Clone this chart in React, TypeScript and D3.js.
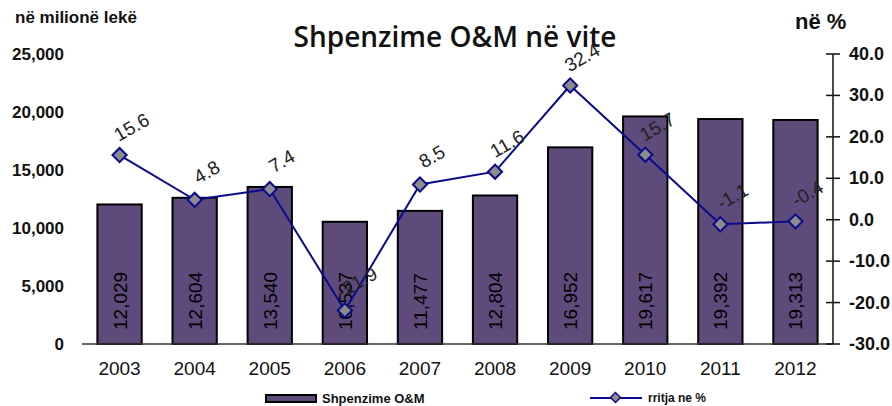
import React from "react";
import * as d3 from "d3";

// data
const years = ["2003", "2004", "2005", "2006", "2007", "2008", "2009", "2010", "2011", "2012"];
const spending = [12029, 12604, 13540, 10537, 11477, 12804, 16952, 19617, 19392, 19313];
const growth = [15.6, 4.8, 7.4, -21.9, 8.5, 11.6, 32.4, 15.7, -1.1, -0.4];
const leftTicks = [0, 5000, 10000, 15000, 20000, 25000];
const rightTicks = [-30, -20, -10, 0, 10, 20, 30, 40];

const W = 892;
const H = 406;
const left = 82;
const right = 833;
const top = 54;
const bottom = 344;

const barFill = "#5f4b7b";
const lineColor = "#0a0a8c";
const font = "'Liberation Sans', Arial, sans-serif";
const narrow = "'Liberation Sans Narrow', 'Arial Narrow', sans-serif";

export default function App() {
  const x = d3.scaleBand<string>().domain(years).range([left, right]).paddingInner(0.41).paddingOuter(0.205);
  const yL = d3.scaleLinear().domain([0, 25000]).range([bottom, top]);
  const yR = d3.scaleLinear().domain([-30, 40]).range([bottom, top]);
  const fmt = d3.format(",");

  const pts = years.map((yr, i) => [x(yr)! + x.bandwidth() / 2, yR(growth[i])] as [number, number]);
  const line = d3.line()(pts) ?? "";

  return (
    <svg width={W} height={H} style={{ position: "absolute", left: 0, top: 0, background: "#fff" }} fontFamily={font}>
      {/* titles */}
      <text x={455} y={47} textAnchor="middle" fontFamily="'Open Sans', sans-serif" fontWeight={600} fontSize={28} fill="#111">
        Shpenzime O&amp;M në vite
      </text>
      <text x={15} y={23} fontWeight="bold" fontSize={17} fill="#111">në milionë lekë</text>
      <text x={795} y={29} fontWeight="bold" fontSize={22} fill="#111">në %</text>

      {/* left axis labels */}
      {leftTicks.map(t => (
        <text key={t} x={64} y={yL(t) + 6} textAnchor="end" fontWeight="bold" fontSize={17} fill="#111">{fmt(t)}</text>
      ))}

      {/* bars */}
      {years.map((yr, i) => (
        <rect key={yr} x={x(yr)} y={yL(spending[i])} width={x.bandwidth()} height={bottom - yL(spending[i])}
          fill={barFill} stroke="#000" strokeWidth={2} />
      ))}
      {years.map((yr, i) => {
        const cx = x(yr)! + x.bandwidth() / 2 + 7;
        return (
          <text key={"v" + yr} transform={`translate(${cx},330) rotate(-90)`} fontSize={19} fill="#000">{fmt(spending[i])}</text>
        );
      })}

      {/* baseline */}
      <line x1={left} x2={right} y1={bottom} y2={bottom} stroke="#333" strokeWidth={1.5} />

      {/* right axis */}
      <line x1={right} x2={right} y1={top} y2={bottom} stroke="#111" strokeWidth={1.5} />
      {rightTicks.map(t => (
        <g key={t}>
          <line x1={right - 7} x2={right + 7} y1={yR(t)} y2={yR(t)} stroke="#111" strokeWidth={1.5} />
          <text x={849} y={yR(t) + 6} fontWeight="bold" fontSize={18} fill="#111">{t.toFixed(1)}</text>
        </g>
      ))}

      {/* x labels */}
      {years.map(yr => (
        <text key={"x" + yr} x={x(yr)! + x.bandwidth() / 2} y={375} textAnchor="middle" fontSize={19} fill="#111">{yr}</text>
      ))}

      {/* growth line */}
      <path d={line} fill="none" stroke={lineColor} strokeWidth={2} />
      {pts.map(([px, py], i) => (
        <rect key={"m" + i} x={px - 5} y={py - 5} width={10} height={10} transform={`rotate(45 ${px} ${py})`}
          fill="#8c8c8c" stroke={lineColor} strokeWidth={2} />
      ))}
      {pts.map(([px, py], i) => (
        <text key={"l" + i} transform={`translate(${px + 12},${py - 28}) rotate(-30)`} textAnchor="middle" dy="0.35em"
          fontSize={19} fill="#222">{growth[i]}</text>
      ))}

      {/* legend */}
      <rect x={266} y={395} width={50} height={7} fill={barFill} stroke="#000" strokeWidth={2} />
      <text x={322} y={403} fontFamily={narrow} fontWeight="bold" fontSize={13} fill="#111">Shpenzime O&amp;M</text>
      <line x1={590} x2={642} y1={398} y2={398} stroke={lineColor} strokeWidth={2} />
      <rect x={612} y={394} width={7} height={7} transform="rotate(45 615.5 397.5)" fill="#8c8c8c" stroke={lineColor} strokeWidth={1.5} />
      <text x={648} y={402} fontFamily={narrow} fontWeight="bold" fontSize={12} fill="#111">rritja ne %</text>
    </svg>
  );
}
